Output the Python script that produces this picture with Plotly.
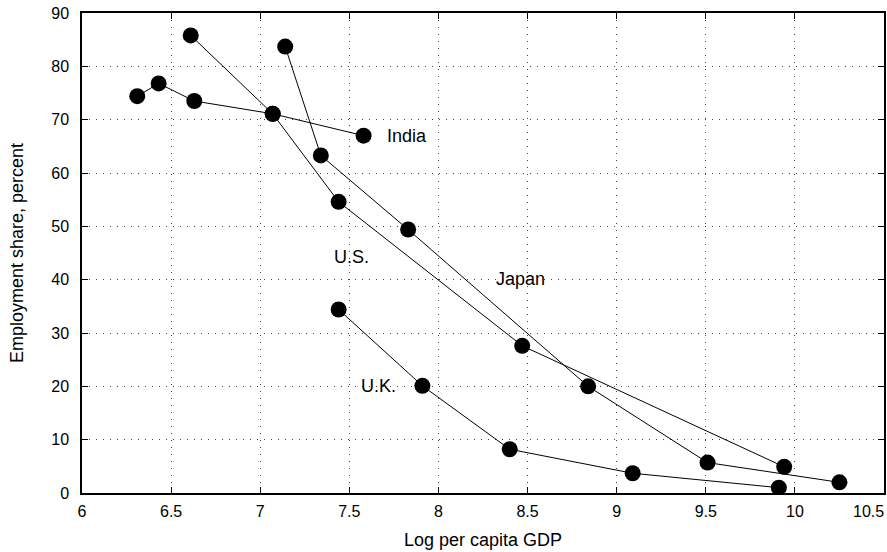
import plotly.graph_objects as go

india_x = [6.31, 6.43, 6.63, 7.07, 7.58]
india_y = [74.4, 76.8, 73.5, 71.1, 67.0]
us_x = [6.61, 7.07, 7.44, 8.47, 9.94]
us_y = [85.8, 71.1, 54.6, 27.6, 4.9]
japan_x = [7.14, 7.34, 7.83, 8.84, 9.51, 10.25]
japan_y = [83.7, 63.3, 49.4, 20.0, 5.7, 2.0]
uk_x = [7.44, 7.91, 8.40, 9.09, 9.91]
uk_y = [34.4, 20.1, 8.2, 3.7, 1.0]

labels = ["India", "U.S.", "Japan", "U.K."]
label_x = [7.7, 7.51, 8.46, 7.665]
label_y = [67.0, 44.2, 40.1, 20.1]

x_ticks = [6, 6.5, 7, 7.5, 8, 8.5, 9, 9.5, 10]
x_ticktext = ["6", "6.5", "7", "7.5", "8", "8.5", "9", "9.5", "10"]
x_last_tick = "10.5"

font = "Liberation Sans, Arial, Helvetica, sans-serif"
fig = go.Figure()
for x, y in [(india_x, india_y), (us_x, us_y), (japan_x, japan_y), (uk_x, uk_y)]:
    fig.add_trace(go.Scatter(x=x, y=y, mode="lines+markers",
                             line=dict(color="black", width=1),
                             marker=dict(color="black", size=16),
                             showlegend=False, hoverinfo="skip"))

for t, x, y in zip(labels, label_x, label_y):
    xa = "left" if t == "India" else "center"
    fig.add_annotation(x=x, y=y, text=t, showarrow=False, xanchor=xa,
                       font=dict(family=font, size=18, color="black"))

# last x tick label sits flush with the right edge, as in the reference
fig.add_annotation(x=1, xref="paper", y=0, yref="paper", yshift=-8, text=x_last_tick,
                   showarrow=False, xanchor="right", yanchor="top", xshift=2,
                   font=dict(family=font, size=16, color="black"))

axis_common = dict(showline=True, linecolor="black", linewidth=1.5, mirror="ticks",
                   ticks="inside", ticklen=6, tickcolor="black", automargin=False,
                   showgrid=True, gridcolor="#444", gridwidth=1, griddash="1px,6px",
                   zeroline=False, ticklabeloverflow="allow",
                   tickfont=dict(family=font, size=16, color="black"))
fig.update_xaxes(range=[6, 10.5], tickvals=x_ticks + [10.5], ticktext=x_ticktext + [""],
                 ticklabelstandoff=3,
                 title=dict(text="Log per capita GDP", font=dict(family=font, size=18, color="black"), standoff=14),
                 **axis_common)
fig.update_yaxes(range=[0, 90], dtick=10, tick0=0, ticklabelstandoff=8,
                 title=dict(text="Employment share, percent", font=dict(family=font, size=18, color="black"), standoff=23),
                 **axis_common)
fig.update_layout(width=887, height=552, margin=dict(l=82, r=3, t=13, b=59),
                  plot_bgcolor="white", paper_bgcolor="white")
fig.write_html("out.html", post_script="document.body.style.margin='0';",
               config={"displayModeBar": False})
